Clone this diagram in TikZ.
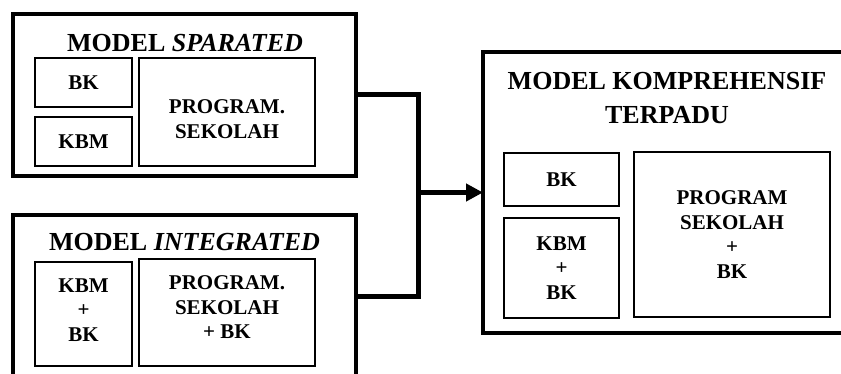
\documentclass[tikz,border=0pt]{standalone}
\usepackage{fontspec}
\setmainfont{Liberation Serif}
\usetikzlibrary{arrows.meta}
\newcommand\cellfont{\fontsize{21}{24.5}\selectfont\bfseries}
\newcommand\ttlfont{\fontsize{26}{34}\selectfont\bfseries}
\begin{document}
\begin{tikzpicture}[x=1pt,y=-1pt,
  frame/.style={draw, line width=4pt, outer sep=0pt, inner sep=0pt, anchor=north west},
  cell/.style={draw, line width=2.5pt, outer sep=0pt, inner sep=0pt, anchor=north west, align=center, font=\cellfont},
  celltxt/.style={font=\cellfont, align=center, inner sep=0pt},
  ttl/.style={font=\ttlfont, align=center, inner sep=0pt},
  conn/.style={line width=5pt}]
\useasboundingbox (0,0) rectangle (841,374);
\clip (0,0) rectangle (841,374);
% Model separated
\node[frame, minimum width=343pt, minimum height=162pt] (sep) at (13,14) {};
\node[ttl] (sept) at (185,43) {MODEL \textit{SPARATED}};
\node[cell, minimum width=97pt, minimum height=49pt] (bk1) at (35,58) {BK};
\node[cell, minimum width=97pt, minimum height=49pt] (kbm1) at (35,117) {KBM};
\node[cell, minimum width=176pt, minimum height=108pt,
      label={[celltxt, yshift=-7pt]center:PROGRAM.\\SEKOLAH}] (prog1) at (139,58) {};
% Model integrated
\node[frame, minimum width=343pt, minimum height=162pt] (int) at (13,215) {};
\node[ttl] (intt) at (184.5,242) {MODEL \textit{INTEGRATED}};
\node[cell, minimum width=97pt, minimum height=104pt,
      label={[celltxt, yshift=4pt]center:KBM\\+\\BK}] (kbm2) at (35,262) {};
\node[cell, minimum width=176pt, minimum height=107pt,
      label={[celltxt, yshift=5pt]center:PROGRAM.\\SEKOLAH\\+ BK}] (prog2) at (139,259) {};
% Model komprehensif
\node[frame, minimum width=417pt, minimum height=281pt] (kom) at (483,52) {};
\node[ttl] (komt) at (667,98) {MODEL KOMPREHENSIF\\TERPADU};
\node[cell, minimum width=115pt, minimum height=53pt] (bk3) at (504,153) {BK};
\node[cell, minimum width=115pt, minimum height=100pt] (kbm3) at (504,218) {KBM\\+\\BK};
\node[cell, minimum width=196pt, minimum height=165pt] (prog3) at (634,152) {PROGRAM\\SEKOLAH\\+\\BK};
% connectors
\coordinate (j) at (418,192.5);
\draw[conn] (sep.east) -| (j) |- (int.east);
\draw[conn, -{Triangle[length=17pt,width=17pt]}] (j) -- (j -| kom.west);
\end{tikzpicture}
\end{document}
